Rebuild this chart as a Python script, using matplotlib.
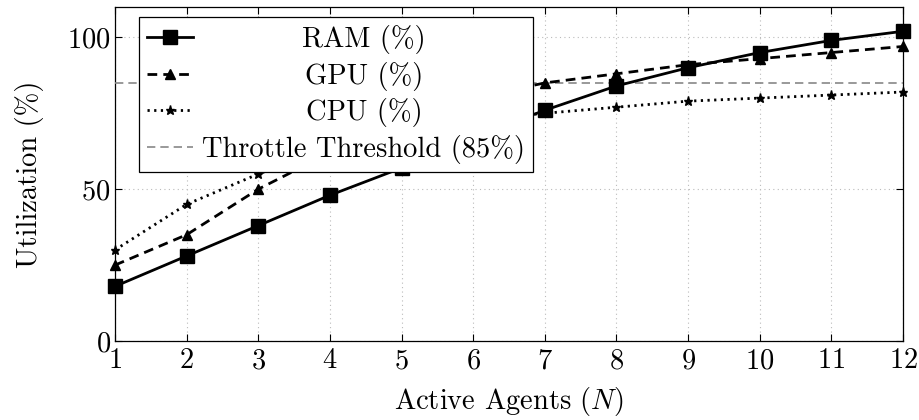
import matplotlib
matplotlib.use("Agg")
import matplotlib.pyplot as plt

agents = [1, 2, 3, 4, 5, 6, 7, 8, 9, 10, 11, 12]
ram = [18, 28, 38, 48, 57, 67, 76, 84, 90, 95, 99, 102]
gpu = [25, 35, 50, 62, 72, 80, 85, 88, 91, 93, 95, 97]
cpu = [30, 45, 55, 63, 69, 73, 75, 77, 79, 80, 81, 82]
threshold = 85
yticks = [0, 50, 100]

plt.rcParams['font.family'] = ['cmr10']
plt.rcParams['mathtext.fontset'] = 'cm'
plt.rcParams['axes.formatter.use_mathtext'] = True
FS = 20.5

fig = plt.figure(figsize=(9.19, 4.2), dpi=100)
ax = fig.add_axes([115/919, 1 - 341/420, (903-115)/919, (341-7)/420])

ax.plot(agents, ram, color='black', lw=2.0, ls='-', marker='s', ms=10,
        label='RAM (%)', clip_on=False, zorder=4)
ax.plot(agents, gpu, color='black', lw=2.0, ls=(0, (3.5, 2.2)), marker='^', ms=6.5,
        label='GPU (%)', clip_on=False, zorder=4)
ax.plot(agents, cpu, color='black', lw=2.0, ls=(0, (0.8, 1.6)), marker='*', ms=6.5,
        label='CPU (%)', clip_on=False, zorder=4)
ax.axhline(threshold, color='#888888', lw=1.2, ls=(0, (5, 3)),
           label='Throttle Threshold (85%)', zorder=3)

ax.set_xlim(1, 12)
ax.set_ylim(0, 110)
ax.set_xticks(agents)
ax.set_yticks(yticks)
ax.tick_params(direction='in', top=True, right=True, length=5, width=0.8,
               labelsize=FS, pad=3, colors='black')
ax.tick_params(axis='x', pad=5)
ax.grid(True, ls=(0, (1, 3)), color='#bbbbbb', lw=0.8)
for s in ax.spines.values():
    s.set_linewidth(0.9)

ax.set_xlabel('Active Agents ($N$)', fontsize=FS, labelpad=8)
ax.set_ylabel('Utilization (%)', fontsize=FS, labelpad=17)

leg = ax.legend(loc='upper left', bbox_to_anchor=(24/788, 1 - 10/334), fontsize=FS,
                frameon=True, fancybox=False, edgecolor='black', framealpha=1,
                handlelength=1.6, handletextpad=0.35, borderpad=0.28,
                labelspacing=0.27, borderaxespad=0)
leg.get_frame().set_linewidth(0.9)
leg.set_zorder(10)

fig.canvas.draw()
r = fig.canvas.get_renderer()
texts = leg.get_texts()
widths = [t.get_window_extent(r).width for t in texts]
wmax = max(widths)
for t, w in zip(texts, widths):
    t.set_position(((wmax - w) / 2, 0))

fig.savefig('out.png', dpi=100)
